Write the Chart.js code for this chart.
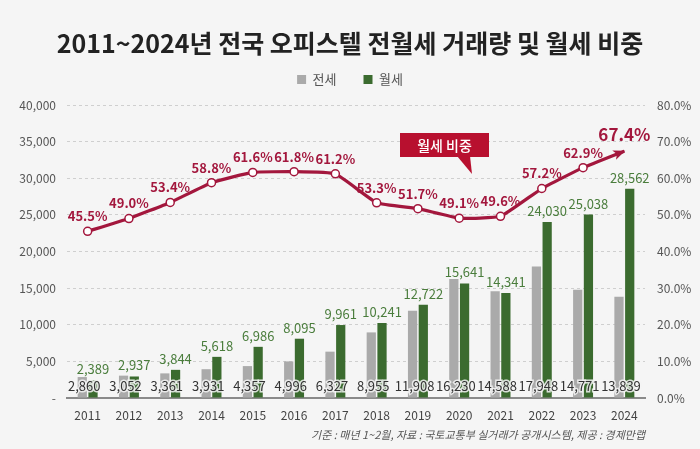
<!DOCTYPE html>
<html>
<head>
<meta charset="utf-8">
<script src="https://cdn.jsdelivr.net/npm/chart.js@4"></script>
<style>
  html, body { margin: 0; padding: 0; background: #f5f5f5; }
  #wrap { width: 700px; height: 449px; }
</style>
</head>
<body>
<div id="wrap"><canvas id="c" width="700" height="449"></canvas></div>
<script>
const years = ['2011','2012','2013','2014','2015','2016','2017','2018','2019','2020','2021','2022','2023','2024'];
const jeonse = [2860,3052,3361,3931,4357,4996,6327,8955,11908,16230,14588,17948,14771,13839];
const wolse = [2389,2937,3844,5618,6986,8095,9961,10241,12722,15641,14341,24030,25038,28562];
const wolseRatio = [45.5,49.0,53.4,58.8,61.6,61.8,61.2,53.3,51.7,49.1,49.6,57.2,62.9,67.4];
const titleText = '2011~2024년 전국 오피스텔 전월세 거래량 및 월세 비중';
const sourceText = '기준 : 매년 1~2월, 자료 : 국토교통부 실거래가 공개시스템, 제공 : 경제만랩';
const calloutText = '월세 비중';

const FONT = "'Noto Sans CJK KR', 'Noto Sans', sans-serif";
const GRAY = '#aaaaaa';
const GREEN = '#3b6b2f';
const RED = '#a3173d';
const BOX = '#b8102f';

const fmt = v => v.toLocaleString('en-US');

const bgPlugin = {
  id: 'bg',
  beforeDraw(chart) {
    const ctx = chart.ctx;
    ctx.save();
    ctx.fillStyle = '#f5f5f5';
    ctx.fillRect(0, 0, chart.width, chart.height);
    ctx.restore();
  }
};

// give the legend a fixed block height so the plot area starts where the reference's does
const legendHeightPlugin = {
  id: 'legendHeight',
  beforeUpdate(chart) {
    const lg = chart.legend;
    if (lg && !lg._patched) {
      const orig = lg.fit;
      lg.fit = function () { orig.call(this); this.height = 59; };
      lg._patched = true;
    }
  }
};

const labelPlugin = {
  id: 'labels',
  afterDatasetsDraw(chart) {
    const ctx = chart.ctx;
    const area = chart.chartArea;
    const m0 = chart.getDatasetMeta(0);
    const m1 = chart.getDatasetMeta(1);
    const m2 = chart.getDatasetMeta(2);
    ctx.save();
    ctx.textAlign = 'center';
    ctx.textBaseline = 'middle';
    // arrow head at last line point
    const n = m2.data.length;
    const p1 = m2.data[n - 2], p2 = m2.data[n - 1];
    const ang = Math.atan2(p2.y - p1.y, p2.x - p1.x);
    ctx.save();
    ctx.translate(p2.x, p2.y);
    ctx.rotate(ang);
    ctx.fillStyle = RED;
    ctx.beginPath();
    ctx.moveTo(1, 0);
    ctx.lineTo(-11, -5);
    ctx.lineTo(-8, 0);
    ctx.lineTo(-11, 5);
    ctx.closePath();
    ctx.fill();
    ctx.restore();

    // gray (jeonse) values at bottom
    ctx.font = '13px ' + FONT;
    m0.data.forEach((bar, i) => {
      const x = bar.x + 2, y = area.bottom - 12;
      ctx.lineWidth = 3;
      ctx.strokeStyle = 'rgba(245,245,245,0.85)';
      ctx.strokeText(fmt(jeonse[i]), x, y);
      ctx.fillStyle = '#333333';
      ctx.fillText(fmt(jeonse[i]), x, y);
    });
    // green values above bars
    ctx.fillStyle = '#4a7d3c';
    m1.data.forEach((bar, i) => {
      ctx.fillText(fmt(wolse[i]), bar.x, bar.y - 11);
    });
    // percent labels
    m2.data.forEach((pt, i) => {
      const last = i === n - 1;
      ctx.font = (last ? 'bold 17px ' : '600 13px ') + FONT;
      ctx.fillStyle = RED;
      ctx.fillText(wolseRatio[i].toFixed(1) + '%', pt.x, pt.y - (last ? 17 : 15));
    });
    ctx.restore();
  },
  afterDraw(chart) {
    const ctx = chart.ctx;
    const area = chart.chartArea;
    ctx.save();
    // callout box
    const bx = area.left + 333, by = area.top + 28, bw = 89, bh = 24;
    ctx.fillStyle = BOX;
    ctx.fillRect(bx, by, bw, bh);
    ctx.beginPath();
    ctx.moveTo(bx + 57, by + bh - 1);
    ctx.lineTo(bx + 72, by + bh + 17);
    ctx.lineTo(bx + 70, by + bh - 1);
    ctx.closePath();
    ctx.fill();
    ctx.fillStyle = '#ffffff';
    ctx.textAlign = 'center';
    ctx.textBaseline = 'middle';
    ctx.font = '500 14px ' + FONT;
    ctx.fillText(calloutText, bx + bw / 2, by + bh / 2 + 1);
    // source note
    ctx.font = 'italic 11px ' + FONT;
    ctx.fillStyle = '#555555';
    ctx.textAlign = 'right';
    ctx.fillText(sourceText, area.right, 435);
    ctx.restore();
  }
};

new Chart(document.getElementById('c'), {
  data: {
    labels: years,
    datasets: [
      { type: 'bar', label: '전세', data: jeonse, backgroundColor: GRAY, yAxisID: 'y',
        categoryPercentage: 0.52, barPercentage: 0.86, order: 2 },
      { type: 'bar', label: '월세', data: wolse, backgroundColor: GREEN, yAxisID: 'y',
        categoryPercentage: 0.52, barPercentage: 0.86, order: 2 },
      { type: 'line', label: '월세 비중', data: wolseRatio, yAxisID: 'y1', borderColor: RED,
        borderWidth: 3.2, tension: 0.12, pointRadius: wolseRatio.map((v, i) => i === wolseRatio.length - 1 ? 0 : 4),
        pointBackgroundColor: '#ffffff', pointBorderColor: RED, pointBorderWidth: 1.5, order: 1 }
    ]
  },
  options: {
    responsive: false,
    animation: false,
    layout: { padding: { top: 0, bottom: 25, left: 0, right: 0 } },
    plugins: {
      tooltip: { enabled: false },
      title: {
        display: true, text: titleText, color: '#222222',
        font: { family: FONT, size: 25, weight: 'bold' },
        padding: { top: 28, bottom: -12 }
      },
      legend: {
        display: true,
        labels: {
          filter: item => item.datasetIndex < 2,
          boxWidth: 9, boxHeight: 9, padding: 27, color: '#555555',
          font: { family: FONT, size: 13 }
        }
      }
    },
    scales: {
      x: {
        afterFit(s) { s.height = 26; },
        grid: { display: false, drawTicks: false },
        border: { display: true, color: '#8a8a8a', width: 2 },
        ticks: { color: '#444444', font: { family: FONT, size: 12 }, padding: 10 }
      },
      y: {
        position: 'left', min: 0, max: 40000,
        afterFit(s) { s.width = 67; },
        grid: { color: '#cfcfcf', lineWidth: 1, drawTicks: false },
        border: { display: false, dash: [3, 3] },
        ticks: { stepSize: 5000, padding: 11, color: '#555555', font: { family: FONT, size: 12 },
          callback: v => v === 0 ? '-' : fmt(v) }
      },
      y1: {
        position: 'right', min: 0, max: 80,
        afterFit(s) { s.width = 55; },
        grid: { display: false, drawTicks: false },
        border: { display: false },
        ticks: { stepSize: 10, padding: 12, color: '#555555', font: { family: FONT, size: 12 },
          callback: v => v.toFixed(1) + '%' }
      }
    }
  },
  plugins: [bgPlugin, legendHeightPlugin, labelPlugin]
});
</script>
</body>
</html>
